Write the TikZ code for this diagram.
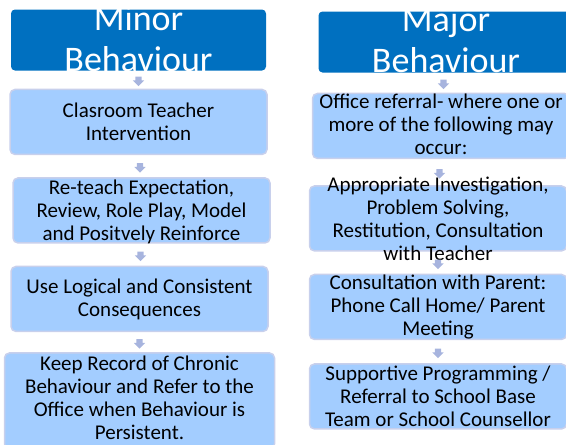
\documentclass[tikz,border=0pt]{standalone}
\usepackage{fontspec}
\setmainfont{Carlito}
\usetikzlibrary{positioning,calc,shapes.arrows}

\definecolor{headblue}{RGB}{0,112,192}
\definecolor{boxfill}{RGB}{163,205,255}
\definecolor{boxline}{RGB}{200,208,236}
\definecolor{arrowfill}{RGB}{167,180,222}

\begin{document}
\begin{tikzpicture}[x=1pt, y=-1pt, node distance=20pt]
    % Define styles
    \tikzstyle{head} = [rectangle, rounded corners=4pt, fill=headblue, minimum width=255pt, minimum height=61pt, inner sep=0pt]
    \tikzstyle{stage} = [rectangle, rounded corners=5pt, draw=boxline, line width=1.5pt, fill=boxfill, minimum width=257pt, minimum height=65pt, inner sep=0pt]
    \tikzstyle{head_text} = [text=white, align=center, inner sep=0pt, font=\fontsize{36}{41}\selectfont]
    \tikzstyle{box_text} = [text=black, align=center, inner sep=0pt, font=\fontsize{21}{23}\selectfont]
    \tikzstyle{down_arrow} = [single arrow, fill=arrowfill, shape border rotate=270, minimum height=9pt, single arrow head extend=2.5pt, inner sep=3pt]

    \clip (0,0) rectangle (566,445);

    % MINOR BEHAVIOUR
    \node (minor_head) [head] at (138.5,40) {};
    \node (minor1) [stage, below=18pt of minor_head] {};
    \node (minor2) [stage, below=22pt of minor1, xshift=3pt] {};
    \node (minor3) [stage, below=22pt of minor2, xshift=-2pt] {};
    \node (minor4) [stage, minimum width=270pt, minimum height=96pt, below=20pt of minor3] {};

    % MAJOR BEHAVIOUR
    \node (major_head) [head] at (446,42) {};
    \node (major1) [stage, below=20pt of major_head, xshift=-5pt] {};
    \node (major2) [stage, below=26pt of major1, xshift=-3pt] {};
    \node (major3) [stage, below=22pt of major2] {};
    \node (major4) [stage, below=23pt of major3] {};

    % Texts
    \node (minor_head_text) [head_text] at ($(minor_head)+(0,-1.5)$) {Minor\\Behaviour};
    \node (minor1_text) [box_text] at (minor1) {Clasroom Teacher\\Intervention};
    \node (minor2_text) [box_text] at ($(minor2)+(0,1)$) {Re-teach Expectation,\\Review, Role Play, Model\\and Positvely Reinforce};
    \node (minor3_text) [box_text] at (minor3) {Use Logical and Consistent\\Consequences};
    \node (minor4_text) [box_text] at ($(minor4)+(0,-3)$) {Keep Record of Chronic\\Behaviour and Refer to the\\Office when Behaviour is\\Persistent.};

    \node (major_head_text) [head_text] at ($(major_head)+(0,-2)$) {Major\\Behaviour};
    \node (major1_text) [box_text] at ($(major1)+(0,-1.5)$) {Office referral- where one or\\more of the following may\\occur:};
    \node (major2_text) [box_text] at (major2) {Appropriate Investigation,\\Problem Solving,\\Restitution, Consultation\\with Teacher};
    \node (major3_text) [box_text] at (major3) {Consultation with Parent:\\Phone Call Home/ Parent\\Meeting};
    \node (major4_text) [box_text] at (major4) {Supportive Programming /\\Referral to School Base\\Team or School Counsellor};

    % ARROWS
    \foreach \a/\b in {minor_head/minor1, minor1/minor2, minor2/minor3, minor3/minor4,
                       major_head/major1, major1/major2, major2/major3, major3/major4}
        \node (arr_\b) [down_arrow] at ($(\a.south)!0.5!(\b.north)$) {};

\end{tikzpicture}
\end{document}
